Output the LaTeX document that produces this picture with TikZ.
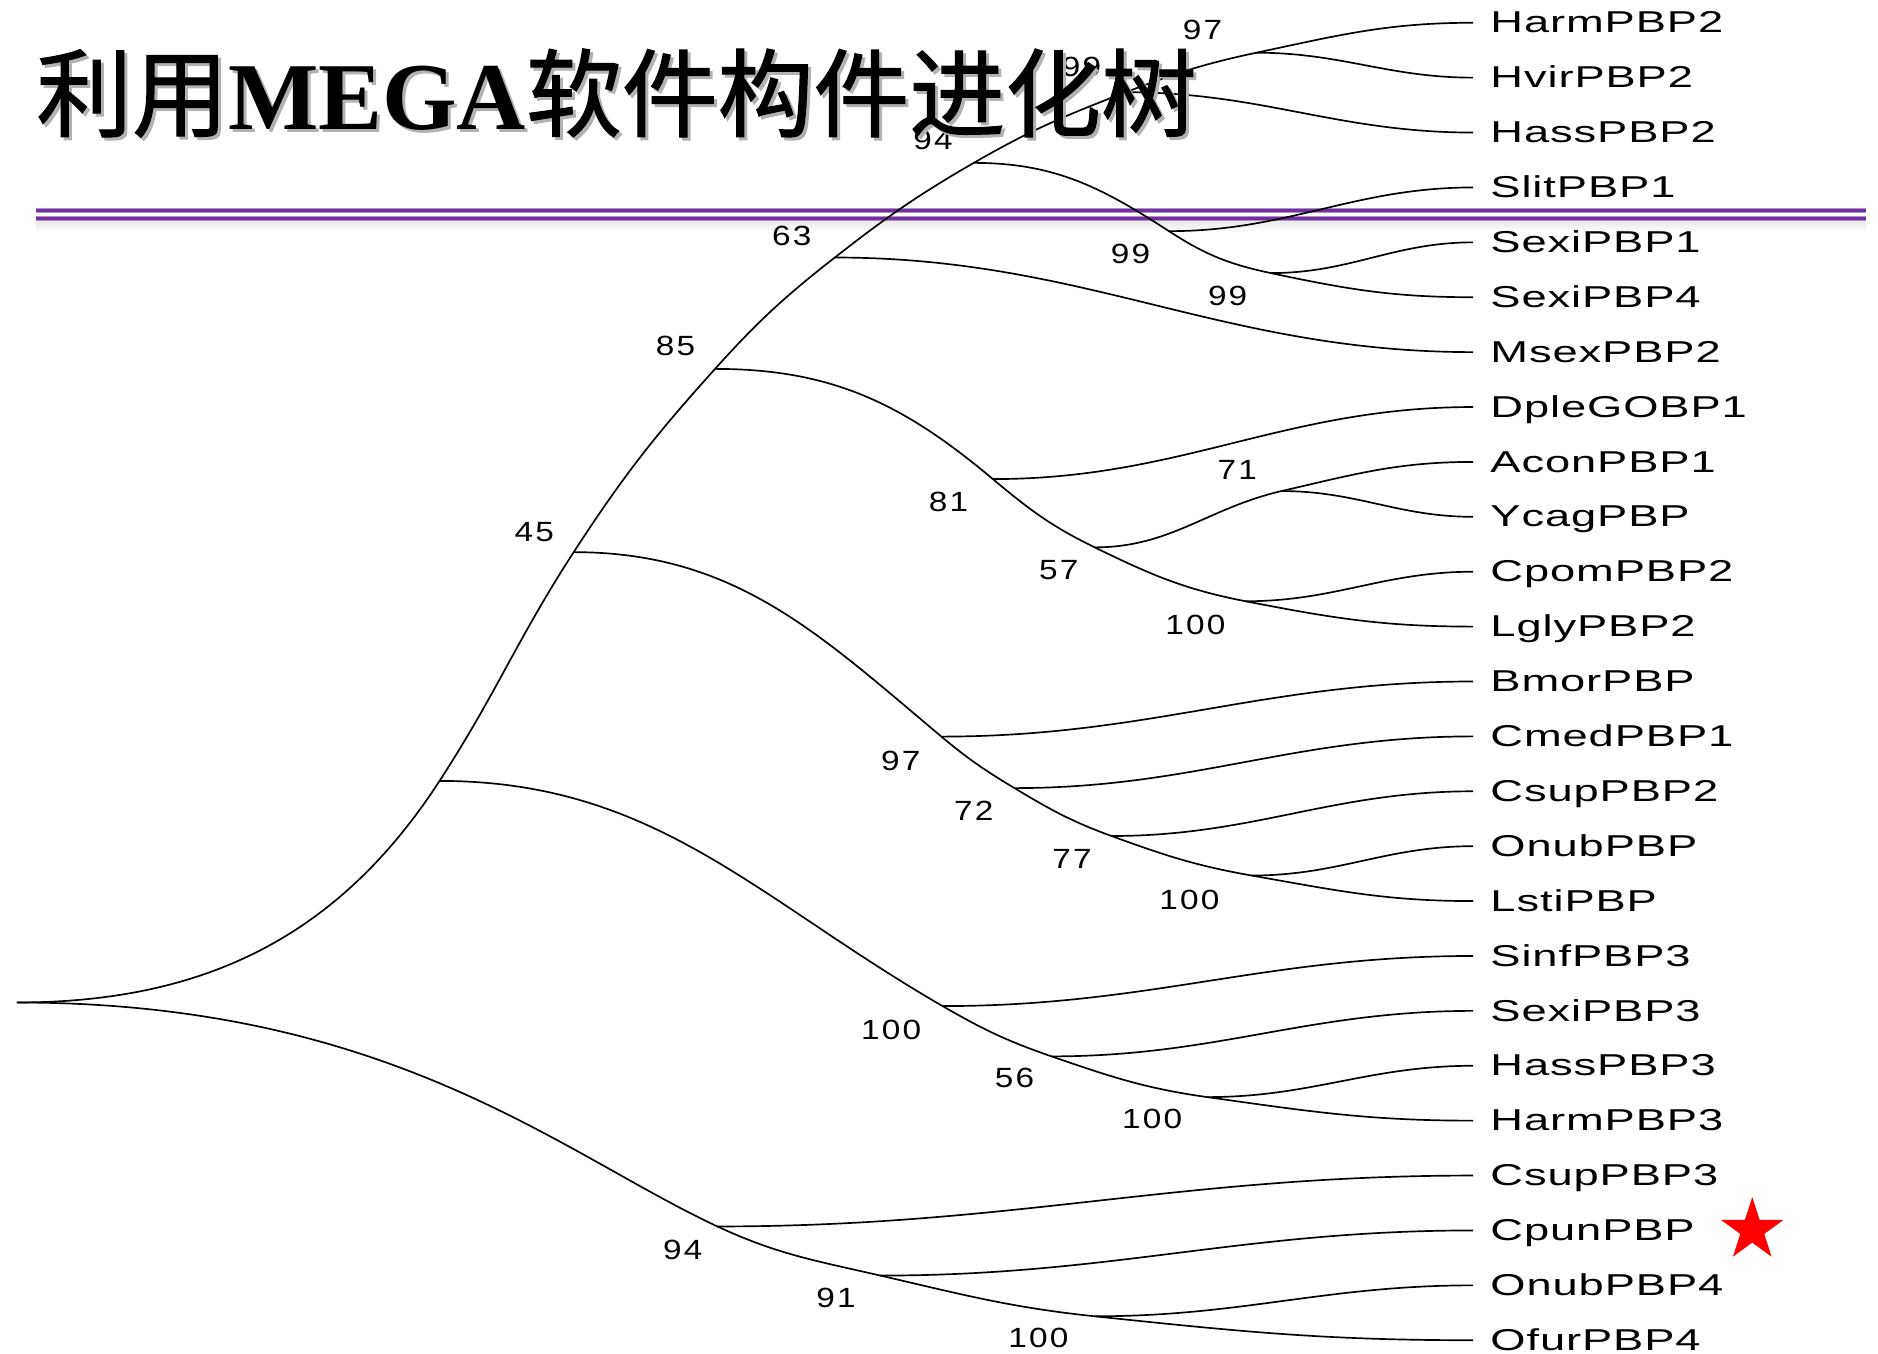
\documentclass[tikz,border=0pt]{standalone}
\usepackage{fontspec}
\setmainfont{Liberation Sans}
\newfontfamily\cjk[FakeBold=1.2]{Noto Sans CJK SC}
\newfontfamily\titleserif{Liberation Serif}
\newfontfamily\leaffont[FakeStretch=1.5,LetterSpace=3]{Liberation Sans}
\newfontfamily\bsfont[FakeStretch=1.2,LetterSpace=8]{Liberation Sans}
\usetikzlibrary{shapes.geometric}
\definecolor{pptpurple}{RGB}{112,48,160}
\begin{document}
\begin{tikzpicture}[x=0.5pt,y=0.5pt,
  br/.style={line width=0.7pt, black},
  leaflabel/.style={font=\leaffont\fontsize{12.6pt}{14pt}\selectfont, inner sep=0, anchor=base west},
  bslabel/.style={font=\bsfont\fontsize{11.6pt}{13pt}\selectfont, inner sep=0},
  sepedge/.style={pptpurple!55, line width=2.1pt},
  sepcore/.style={pptpurple, line width=1.3pt},
  titlefont/.style={font=\fontsize{40pt}{44pt}\selectfont, inner sep=0, anchor=base west}]
\useasboundingbox (0,0) rectangle (1568,-1130);
\fill[white] (0,0) rectangle (1568,-1130);

% separator lines
\fill[top color=black!9, bottom color=white] (30,-184) rectangle (1558,-194);
\foreach \yy in {-175.5,-182.5}{
  \draw[sepedge] (30,\yy) -- (1558,\yy);
  \draw[sepcore] (30,\yy) -- (1558,\yy);
}

% internal nodes
\coordinate (R) at (14,-837);
\coordinate (N1) at (367,-652);
\coordinate (N45) at (479,-461);
\coordinate (N85) at (597,-308);
\coordinate (N63) at (697,-215);
\coordinate (N94) at (813,-136);
\coordinate (Ntop) at (940,-77);
\coordinate (N97) at (1049,-44);
\coordinate (N99a) at (976,-193);
\coordinate (N99b) at (1061,-228);
\coordinate (N81) at (829,-400);
\coordinate (N57) at (914,-457);
\coordinate (N71) at (1070,-410);
\coordinate (N100c) at (1040,-502);
\coordinate (N97b) at (786,-615);
\coordinate (N72) at (847,-658);
\coordinate (N77) at (928,-698);
\coordinate (N100d) at (1045,-731);
\coordinate (N100s) at (787,-840);
\coordinate (N56) at (878,-882);
\coordinate (N100h) at (1008,-916);
\coordinate (N94b) at (599,-1024);
\coordinate (N91) at (735,-1065);
\coordinate (N100b) at (914,-1099);

% leaves
\foreach \nm [count=\i from 0] in {HarmPBP2,HvirPBP2,HassPBP2,SlitPBP1,SexiPBP1,SexiPBP4,MsexPBP2,DpleGOBP1,AconPBP1,YcagPBP,CpomPBP2,LglyPBP2,BmorPBP,CmedPBP1,CsupPBP2,OnubPBP,LstiPBP,SinfPBP3,SexiPBP3,HassPBP3,HarmPBP3,CsupPBP3,CpunPBP,OnubPBP4,OfurPBP4}{
  \coordinate (\nm) at (1230,{-(19+45.833*\i)});
  \node[leaflabel] (lab\nm) at (1244,{-(19+45.833*\i+8.5)}) {\nm};
}

% main curves
\draw[br] (R) to[out=0,in=237] (N1) to[out=57,in=237] (N45) to[out=57,in=228] (N85)
  to[out=48,in=218] (N63) to[out=38,in=210] (N94) to[out=30,in=201] (Ntop)
  to[out=21,in=192] (N97) to[out=12,in=180] (HarmPBP2);
\draw[br] (R) to[out=0,in=155,out looseness=1.3,in looseness=0.6] (N94b) to[out=-25,in=167] (N91) to[out=-13,in=174] (N100b) to[out=-6,in=180] (OfurPBP4);
\draw[br] (N1) to[out=0,in=150] (N100s) to[out=-30,in=161] (N56) to[out=-19,in=172] (N100h) to[out=-8,in=180] (HarmPBP3);
\draw[br] (N45) to[out=0,in=140] (N97b) to[out=-40,in=149] (N72) to[out=-31,in=160] (N77) to[out=-20,in=170] (N100d) to[out=-10,in=180] (LstiPBP);
\draw[br] (N85) to[out=0,in=140] (N81) to[out=-40,in=154] (N57) to[out=-26,in=169] (N100c) to[out=-11,in=180] (LglyPBP2);
\draw[br] (N57) to[out=0,in=193] (N71) to[out=13,in=180] (AconPBP1);
\draw[br] (N94) to[out=0,in=147] (N99a) to[out=-33,in=168] (N99b) to[out=-12,in=180] (SexiPBP4);

% leaf branches
\foreach \a/\b in {N97/HvirPBP2,Ntop/HassPBP2,N99a/SlitPBP1,N99b/SexiPBP1,N63/MsexPBP2,N81/DpleGOBP1,N71/YcagPBP,N100c/CpomPBP2,N97b/BmorPBP,N72/CmedPBP1,N77/CsupPBP2,N100d/OnubPBP,N100s/SinfPBP3,N56/SexiPBP3,N100h/HassPBP3,N94b/CsupPBP3,N91/CpunPBP,N100b/OnubPBP4}{
  \draw[br] (\a) to[out=0,in=180] (\b);
}

% bootstrap values
\node[bslabel] (bs97)   at (1004,-25)  {97};
\node[bslabel] (bstop)  at (903,-56)   {99};
\node[bslabel] (bs94)   at (779,-117)  {94};
\node[bslabel] (bs63)   at (661,-197)  {63};
\node[bslabel] (bs99a)  at (944,-212)  {99};
\node[bslabel] (bs99b)  at (1025,-247) {99};
\node[bslabel] (bs85)   at (564,-289)  {85};
\node[bslabel] (bs71)   at (1033,-392) {71};
\node[bslabel] (bs81)   at (792,-419)  {81};
\node[bslabel] (bs45)   at (446,-444)  {45};
\node[bslabel] (bs57)   at (884,-476)  {57};
\node[bslabel] (bs100c) at (998,-522)  {100};
\node[bslabel] (bs97b)  at (752,-635)  {97};
\node[bslabel] (bs72)   at (813,-677)  {72};
\node[bslabel] (bs77)   at (895,-717)  {77};
\node[bslabel] (bs100d) at (993,-751)  {100};
\node[bslabel] (bs100s) at (744,-860)  {100};
\node[bslabel] (bs56)   at (847,-900)  {56};
\node[bslabel] (bs100h) at (962,-934)  {100};
\node[bslabel] (bs94b)  at (570,-1044) {94};
\node[bslabel] (bs91)   at (698,-1084) {91};
\node[bslabel] (bs100b) at (867,-1117) {100};

% red star
\node[star, star points=5, star point ratio=2.618, fill=red, draw=none, minimum size=27.5pt, inner sep=0] (star) at (1463,-1027) {};

% title with shadow
\node[titlefont, text=black!30] (titleshadow) at (32.5,-110.5) {{\cjk 利用}{\titleserif\bfseries MEGA}{\cjk 软件构件进化树}};
\node[titlefont] (title) at (30,-108) {{\cjk 利用}{\titleserif\bfseries MEGA}{\cjk 软件构件进化树}};
\end{tikzpicture}
\end{document}
